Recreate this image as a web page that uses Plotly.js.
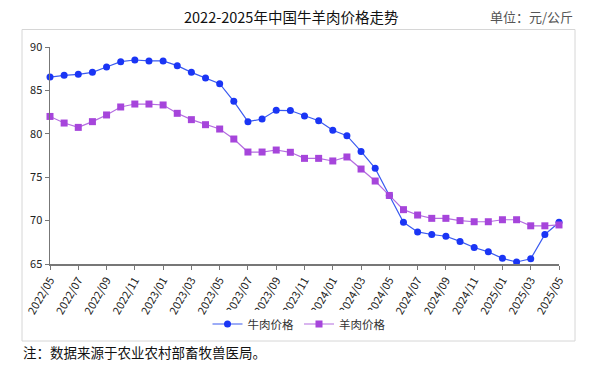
<!DOCTYPE html>
<html>
<head>
<meta charset="utf-8">
<script src="https://cdn.plot.ly/plotly-3.0.1.min.js"></script>
<style>html,body{margin:0;padding:0;background:#fff;}#chart{width:601px;height:367px;}</style>
</head>
<body>
<div id="chart"></div>
<script>
const months = ["2022/05","2022/06","2022/07","2022/08","2022/09","2022/10","2022/11","2022/12",
"2023/01","2023/02","2023/03","2023/04","2023/05","2023/06","2023/07","2023/08","2023/09","2023/10","2023/11","2023/12",
"2024/01","2024/02","2024/03","2024/04","2024/05","2024/06","2024/07","2024/08","2024/09","2024/10","2024/11","2024/12",
"2025/01","2025/02","2025/03","2025/04","2025/05"];
const beef = [86.54,86.74,86.85,87.08,87.70,88.31,88.50,88.39,88.39,87.85,87.08,86.43,85.78,83.74,81.40,81.70,82.70,82.68,82.05,81.51,
80.40,79.78,77.97,76.02,72.90,69.80,68.70,68.40,68.20,67.60,66.90,66.40,65.65,65.23,65.60,68.40,69.80];
const mutton = [82.00,81.24,80.74,81.40,82.17,83.09,83.43,83.43,83.32,82.36,81.63,81.05,80.55,79.40,77.90,77.90,78.13,77.87,77.17,77.17,
76.87,77.33,75.94,74.56,72.90,71.26,70.64,70.26,70.26,70.00,69.87,69.87,70.10,70.10,69.40,69.40,69.50];
const tickLabels = months.filter((m,i)=>i%2===0);
const seriesNames = ["牛肉价格","羊肉价格"];
const titleText = "2022-2025年中国牛羊肉价格走势";
const unitText = "单位：元/公斤";
const noteText = "注：数据来源于农业农村部畜牧兽医局。";

const font = "'Noto Sans CJK SC', 'Noto Sans', sans-serif";
const traces = [
  {x: months, y: beef, name: seriesNames[0], type: "scatter", mode: "lines+markers",
   line: {color: "#3a5af0", width: 1.2}, marker: {color: "#1a35f5", size: 7, symbol: "circle"}, cliponaxis: false},
  {x: months, y: mutton, name: seriesNames[1], type: "scatter", mode: "lines+markers",
   line: {color: "#b46ce0", width: 1.2}, marker: {color: "#a645db", size: 7, symbol: "square"}, cliponaxis: false}
];
const L = 50, R = 559, T = 47, B = 264;
const px = v => (v - L) / (R - L);
const py = v => (B - v) / (B - T);
const layout = {
  width: 601, height: 367,
  margin: {l: L, r: 601 - R, t: T, b: 367 - B},
  paper_bgcolor: "#fff", plot_bgcolor: "#fff",
  font: {family: font, size: 11, color: "#333"},
  showlegend: true,
  legend: {orientation: "h", x: px(299), xanchor: "center", y: py(324), yanchor: "middle",
           font: {size: 11.5, color: "#333"}, itemwidth: 30, tracegroupgap: 0},
  xaxis: {type: "category", range: [0, 36], tickvals: tickLabels, ticktext: tickLabels,
          tickangle: -60, showgrid: false, zeroline: false, showline: true, linecolor: "#777", linewidth: 1.5,
          ticks: "outside", ticklen: 4, tickcolor: "#777", tickfont: {size: 11, color: "#222"}, fixedrange: true},
  yaxis: {range: [65, 90], tickvals: [65,70,75,80,85,90], showgrid: false, zeroline: false,
          showline: true, linecolor: "#777", linewidth: 1.5, ticks: "outside", ticklen: 4, tickcolor: "#777",
          tickfont: {size: 11, color: "#222"}, fixedrange: true},
  shapes: [{type: "rect", xref: "paper", yref: "paper", x0: px(22), x1: px(575), y0: py(341), y1: py(29.5),
            line: {color: "#d6d6d6", width: 1}, fillcolor: "rgba(0,0,0,0)", layer: "below"}],
  annotations: [
    {text: titleText, xref: "paper", yref: "paper", x: px(291), y: py(17), xanchor: "center", yanchor: "middle",
     showarrow: false, font: {size: 14.5, color: "#111", family: font}},
    {text: unitText, xref: "paper", yref: "paper", x: px(575), y: py(17), xanchor: "right", yanchor: "middle",
     showarrow: false, font: {size: 13, color: "#555", family: font}},
    {text: noteText, xref: "paper", yref: "paper", x: px(21), y: py(352), xanchor: "left", yanchor: "middle",
     showarrow: false, font: {size: 13.5, color: "#111", family: font}}
  ]
};
Plotly.newPlot("chart", traces, layout, {displayModeBar: false, staticPlot: true});
</script>
</body>
</html>
